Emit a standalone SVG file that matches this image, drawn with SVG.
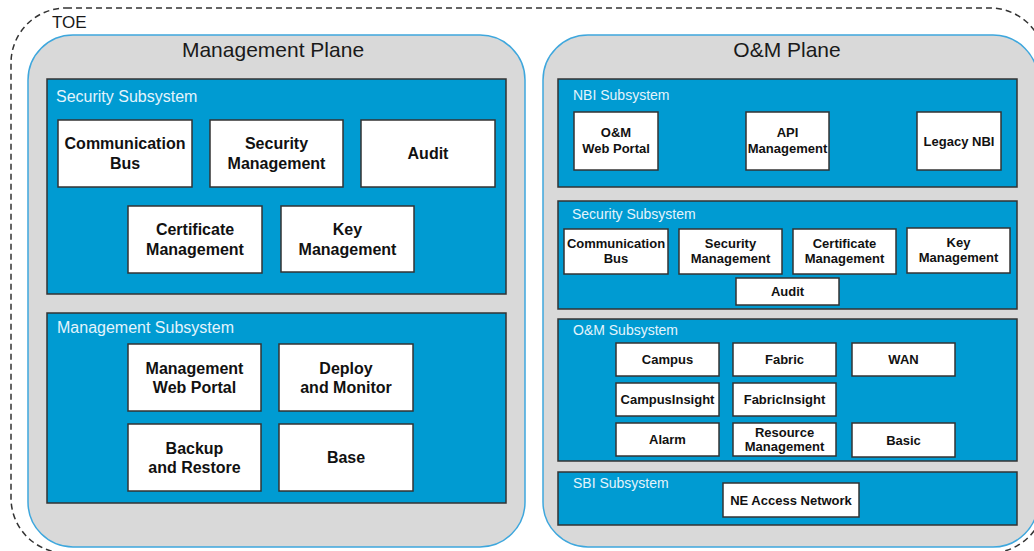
<svg xmlns="http://www.w3.org/2000/svg" width="1034" height="551" viewBox="0 0 1034 551">
<style>
  .toe{fill:none;stroke:#333;stroke-width:1.5;stroke-dasharray:6 4}
  .plane{fill:#d9d9d9;stroke:#3ea7dd;stroke-width:1.5}
  .sub{fill:#009bd2;stroke:#333;stroke-width:1.5}
  .box{fill:#fff;stroke:#333;stroke-width:1.5}
  .ptitle{font-family:"Liberation Sans",Arial,sans-serif;font-size:21px;fill:#1a1a1a;text-anchor:middle}
  .toet{font-family:"Liberation Sans",Arial,sans-serif;font-size:17px;fill:#1a1a1a}
  .sl{font-family:"Liberation Sans",Arial,sans-serif;font-size:16px;fill:#e4f4fc}
  .sr{font-family:"Liberation Sans",Arial,sans-serif;font-size:14px;fill:#e4f4fc}
  .bl{font-family:"Liberation Sans",Arial,sans-serif;font-size:16px;font-weight:bold;fill:#111;text-anchor:middle}
  .br{font-family:"Liberation Sans",Arial,sans-serif;font-size:13px;font-weight:bold;fill:#111;text-anchor:middle}
</style>
<rect width="1034" height="551" fill="#fff"/>
<g id="toe">
  <rect class="toe" x="11" y="8" width="1034" height="545" rx="55" ry="55"/>
  <text class="toet" x="52" y="28">TOE</text>
</g>
<g id="management-plane">
  <rect class="plane" x="28" y="35" width="497" height="512" rx="45" ry="45"/>
  <text class="ptitle" x="273" y="57">Management Plane</text>
</g>
<g id="om-plane">
  <rect class="plane" x="543" y="35" width="495" height="512" rx="45" ry="45"/>
  <text class="ptitle" x="787" y="57">O&amp;M Plane</text>
</g>
<g id="mp-security-subsystem">
  <rect class="sub" x="47" y="79" width="459" height="215"/>
  <text class="sl" x="56" y="102">Security Subsystem</text>
</g>
<g id="mp-comm-bus"><rect class="box" x="58" y="120" width="134" height="67"/><text class="bl" x="125" y="149">Communication</text><text class="bl" x="125" y="169">Bus</text></g>
<g id="mp-security-mgmt"><rect class="box" x="210" y="120" width="133" height="67"/><text class="bl" x="276.5" y="149">Security</text><text class="bl" x="276.5" y="169">Management</text></g>
<g id="mp-audit"><rect class="box" x="361" y="120" width="134" height="67"/><text class="bl" x="428" y="159">Audit</text></g>
<g id="mp-cert-mgmt"><rect class="box" x="128" y="206" width="134" height="67"/><text class="bl" x="195" y="235">Certificate</text><text class="bl" x="195" y="255">Management</text></g>
<g id="mp-key-mgmt"><rect class="box" x="281" y="206" width="133" height="66"/><text class="bl" x="347.5" y="235">Key</text><text class="bl" x="347.5" y="255">Management</text></g>
<g id="mp-management-subsystem">
  <rect class="sub" x="47" y="313" width="459" height="190"/>
  <text class="sl" x="57" y="333">Management Subsystem</text>
</g>
<g id="mp-web-portal"><rect class="box" x="128" y="344" width="133" height="67"/><text class="bl" x="194.5" y="374">Management</text><text class="bl" x="194.5" y="393">Web Portal</text></g>
<g id="mp-deploy"><rect class="box" x="279" y="344" width="134" height="67"/><text class="bl" x="346" y="374">Deploy</text><text class="bl" x="346" y="393">and Monitor</text></g>
<g id="mp-backup"><rect class="box" x="128" y="424" width="133" height="67"/><text class="bl" x="194.5" y="454">Backup</text><text class="bl" x="194.5" y="473">and Restore</text></g>
<g id="mp-base"><rect class="box" x="279" y="424" width="134" height="67"/><text class="bl" x="346" y="463">Base</text></g>

<g id="om-nbi-subsystem">
  <rect class="sub" x="558" y="79" width="459" height="108"/>
  <text class="sr" x="573" y="100">NBI Subsystem</text>
</g>
<g id="om-web-portal"><rect class="box" x="574" y="112" width="84" height="58"/><text class="br" x="616" y="137">O&amp;M</text><text class="br" x="616" y="153">Web Portal</text></g>
<g id="om-api-mgmt"><rect class="box" x="746" y="112" width="83" height="58"/><text class="br" x="787.5" y="137">API</text><text class="br" x="787.5" y="153">Management</text></g>
<g id="om-legacy-nbi"><rect class="box" x="917" y="112" width="84" height="58"/><text class="br" x="959" y="146">Legacy NBI</text></g>

<g id="om-security-subsystem">
  <rect class="sub" x="558" y="201" width="459" height="108"/>
  <text class="sr" x="572" y="219">Security Subsystem</text>
</g>
<g id="om-comm-bus"><rect class="box" x="564" y="229" width="104" height="45"/><text class="br" x="616" y="248">Communication</text><text class="br" x="616" y="263">Bus</text></g>
<g id="om-security-mgmt"><rect class="box" x="679" y="229" width="103" height="45"/><text class="br" x="730.5" y="248">Security</text><text class="br" x="730.5" y="263">Management</text></g>
<g id="om-cert-mgmt"><rect class="box" x="793" y="229" width="103" height="45"/><text class="br" x="844.5" y="248">Certificate</text><text class="br" x="844.5" y="263">Management</text></g>
<g id="om-key-mgmt"><rect class="box" x="907" y="228" width="103" height="45"/><text class="br" x="958.5" y="247">Key</text><text class="br" x="958.5" y="262">Management</text></g>
<g id="om-audit"><rect class="box" x="736" y="278" width="103" height="27"/><text class="br" x="787.5" y="296">Audit</text></g>

<g id="om-om-subsystem">
  <rect class="sub" x="558" y="319" width="459" height="142"/>
  <text class="sr" x="573" y="335">O&amp;M Subsystem</text>
</g>
<g id="om-campus"><rect class="box" x="616" y="343" width="103" height="33"/><text class="br" x="667.5" y="364">Campus</text></g>
<g id="om-fabric"><rect class="box" x="733" y="343" width="103" height="33"/><text class="br" x="784.5" y="364">Fabric</text></g>
<g id="om-wan"><rect class="box" x="852" y="343" width="103" height="33"/><text class="br" x="903.5" y="364">WAN</text></g>
<g id="om-campusinsight"><rect class="box" x="616" y="383" width="103" height="33"/><text class="br" x="667.5" y="404">CampusInsight</text></g>
<g id="om-fabricinsight"><rect class="box" x="733" y="383" width="103" height="33"/><text class="br" x="784.5" y="404">FabricInsight</text></g>
<g id="om-alarm"><rect class="box" x="616" y="423" width="103" height="33"/><text class="br" x="667.5" y="444">Alarm</text></g>
<g id="om-resource-mgmt"><rect class="box" x="733" y="423" width="103" height="33"/><text class="br" x="784.5" y="437">Resource</text><text class="br" x="784.5" y="451">Management</text></g>
<g id="om-basic"><rect class="box" x="852" y="423" width="103" height="34"/><text class="br" x="903.5" y="445">Basic</text></g>

<g id="om-sbi-subsystem">
  <rect class="sub" x="558" y="472" width="459" height="53"/>
  <text class="sr" x="573" y="488">SBI Subsystem</text>
</g>
<g id="om-ne-access"><rect class="box" x="723" y="483" width="136" height="34"/><text class="br" x="791" y="505">NE Access Network</text></g>
<g id="connectors"></g>
</svg>
